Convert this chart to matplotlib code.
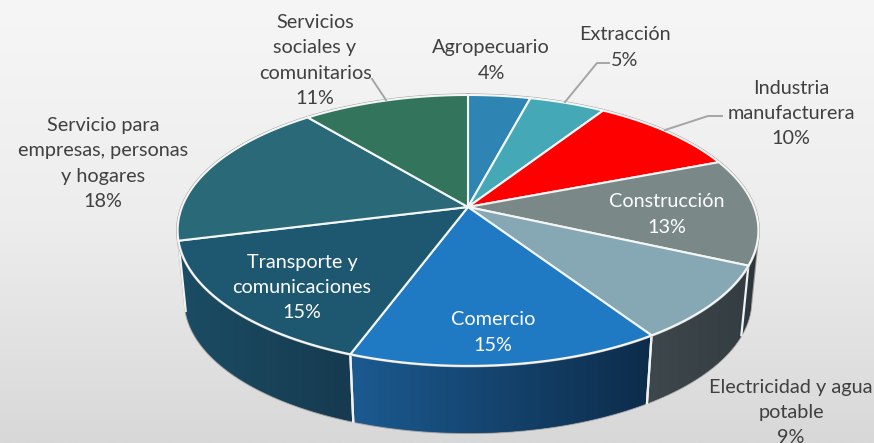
import numpy as np
import matplotlib
matplotlib.use("Agg")
import matplotlib.pyplot as plt
from matplotlib.patches import Polygon
from matplotlib.colors import LinearSegmentedColormap

# ---- data ----
categories = ["Agropecuario", "Extracción", "Industria\nmanufacturera", "Construcción",
              "Electricidad y agua\npotable", "Comercio", "Transporte y\ncomunicaciones",
              "Servicio para\nempresas, personas\ny hogares", "Servicios\nsociales y\ncomunitarios"]
values = [4.1, 5.0, 10.0, 12.7, 8.95, 14.85, 15.45, 18.0, 10.95]

# ---- styles ----
top_colors = ["#2e85b4", "#45a8b7", "#fe0000", "#7a8888", "#86a8b5",
              "#2079c3", "#1e5870", "#2a6a78", "#33745c"]
side_left = ["#1d4e6e", "#25606c", "#800000", "#37444a", "#3e484c",
             "#1b5a90", "#1b4d64", "#1b4d64", "#1b4d64"]
side_right = ["#1d4e6e", "#25606c", "#800000", "#2b363b", "#343e42",
              "#0d2c4a", "#163a4f", "#1b4d64", "#1b4d64"]
label_pos = [(491, 59), (625, 46), (791, 112), (667, 213), (791, 411),
             (493, 331), (302, 286), (103, 162), (315, 59)]
label_white = [False, False, False, True, False, True, True, False, False]
leaders = [([372, 386], [79, 100]),
           ([609, 597, 565], [63, 63, 102]),
           ([722, 708, 665], [116, 116, 130])]

CX, CY = 468, 207
R, A, P = 286, 131.4, 0.173
SCALE, CY2 = 0.975, 278


def project(theta, cy=CY, s=1.0):
    x = CX + s * R * np.sin(theta) / (1 + P * np.cos(theta))
    y = cy - s * A * np.cos(theta) / (1 + P * np.cos(theta))
    return x, y


def convex_hull(points):
    pts = sorted(set(map(tuple, points)))
    def half(seq):
        out = []
        for p in seq:
            while len(out) > 1 and ((out[-1][0] - out[-2][0]) * (p[1] - out[-2][1])
                                    - (out[-1][1] - out[-2][1]) * (p[0] - out[-2][0])) <= 0:
                out.pop()
            out.append(p)
        return out[:-1]
    return np.array(half(pts) + half(pts[::-1]))


fig = plt.figure(figsize=(8.74, 4.43), dpi=100)
ax = fig.add_axes([0, 0, 1, 1])
ax.axis("off")
plt.rcParams["font.family"] = ["Lato", "DejaVu Sans"]

bg = LinearSegmentedColormap.from_list("bg", ["#f6f6f6", "#ededed", "#d8d8d8"])
ax.imshow(np.linspace(0, 1, 256).reshape(-1, 1), cmap=bg, extent=(0, 874, 443, 0),
          aspect="auto", zorder=0)

cum = np.cumsum([0] + values) / sum(values) * 2 * np.pi
slices = list(zip(cum[:-1], cum[1:]))

# silhouette of the whole solid
full = np.linspace(0, 2 * np.pi, 400)
tx, ty = project(full)
bx, by = project(full, CY2, SCALE)
hull = convex_hull(np.column_stack([np.r_[tx, bx], np.r_[ty, by]]))
ax.add_patch(Polygon(hull, closed=True, facecolor="#1b4d64", edgecolor="#9a9a9a", lw=1.6, zorder=1))
right = hull[hull[:, 0] >= CX]
right = right[np.argsort(np.arctan2(right[:, 0] - CX, -(right[:, 1] - CY2)))]
ax.add_patch(Polygon(right, closed=True, facecolor="#2b363b", edgecolor="none", zorder=1.2))

# side walls, back to front
order = sorted(range(len(values)), key=lambda i: -np.cos((slices[i][0] + slices[i][1]) / 2))
for rank, i in enumerate(order):
    t0, t1 = slices[i]
    th = np.linspace(t0, t1, 80)
    x1, y1 = project(th)
    x2, y2 = project(th, CY2, SCALE)
    pts = np.column_stack([np.r_[x1, x2[::-1]], np.r_[y1, y2[::-1]]])
    poly = Polygon(pts, closed=True, facecolor=side_left[i], edgecolor="none", zorder=2 + 0.01 * rank)
    ax.add_patch(poly)
    cm = LinearSegmentedColormap.from_list(f"s{i}", [side_left[i], side_right[i]])
    im = ax.imshow(np.linspace(0, 1, 128).reshape(1, -1), cmap=cm,
                   extent=(pts[:, 0].min(), pts[:, 0].max(), pts[:, 1].max(), pts[:, 1].min()),
                   aspect="auto", zorder=2 + 0.01 * rank)
    im.set_clip_path(poly)
    if np.cos((t0 + t1) / 2) < -0.6:
        ax.plot([x1[0], x2[0]], [y1[0], y2[0]], color="#f2f2f2", lw=1.6, zorder=3)
        ax.plot([x1[-1], x2[-1]], [y1[-1], y2[-1]], color="#f2f2f2", lw=1.6, zorder=3)

ax.set_xlim(0, 874)
ax.set_ylim(443, 0)

ax.plot(tx, ty, color="#a6a6a6", lw=2.2, zorder=3.5)

# top faces
for i, (t0, t1) in enumerate(slices):
    th = np.linspace(t0, t1, 80)
    x1, y1 = project(th)
    pts = np.column_stack([np.r_[CX, x1], np.r_[CY, y1]])
    ax.add_patch(Polygon(pts, closed=True, facecolor=top_colors[i], edgecolor="#f4f6f6",
                         lw=1.5, joinstyle="round", zorder=4))

# leaders
for lx, ly in leaders:
    ax.plot(lx, ly, color="#a5a5a5", lw=1.4, zorder=5)

# labels
for name, v, (x, y), w in zip(categories, values, label_pos, label_white):
    ax.text(x, y + 1.5, f"{name}\n{round(v)}%", ha="center", va="center", fontsize=14.3,
            color="#ffffff" if w else "#404040", linespacing=1.6, zorder=6)

fig.savefig("out.png", dpi=100)
